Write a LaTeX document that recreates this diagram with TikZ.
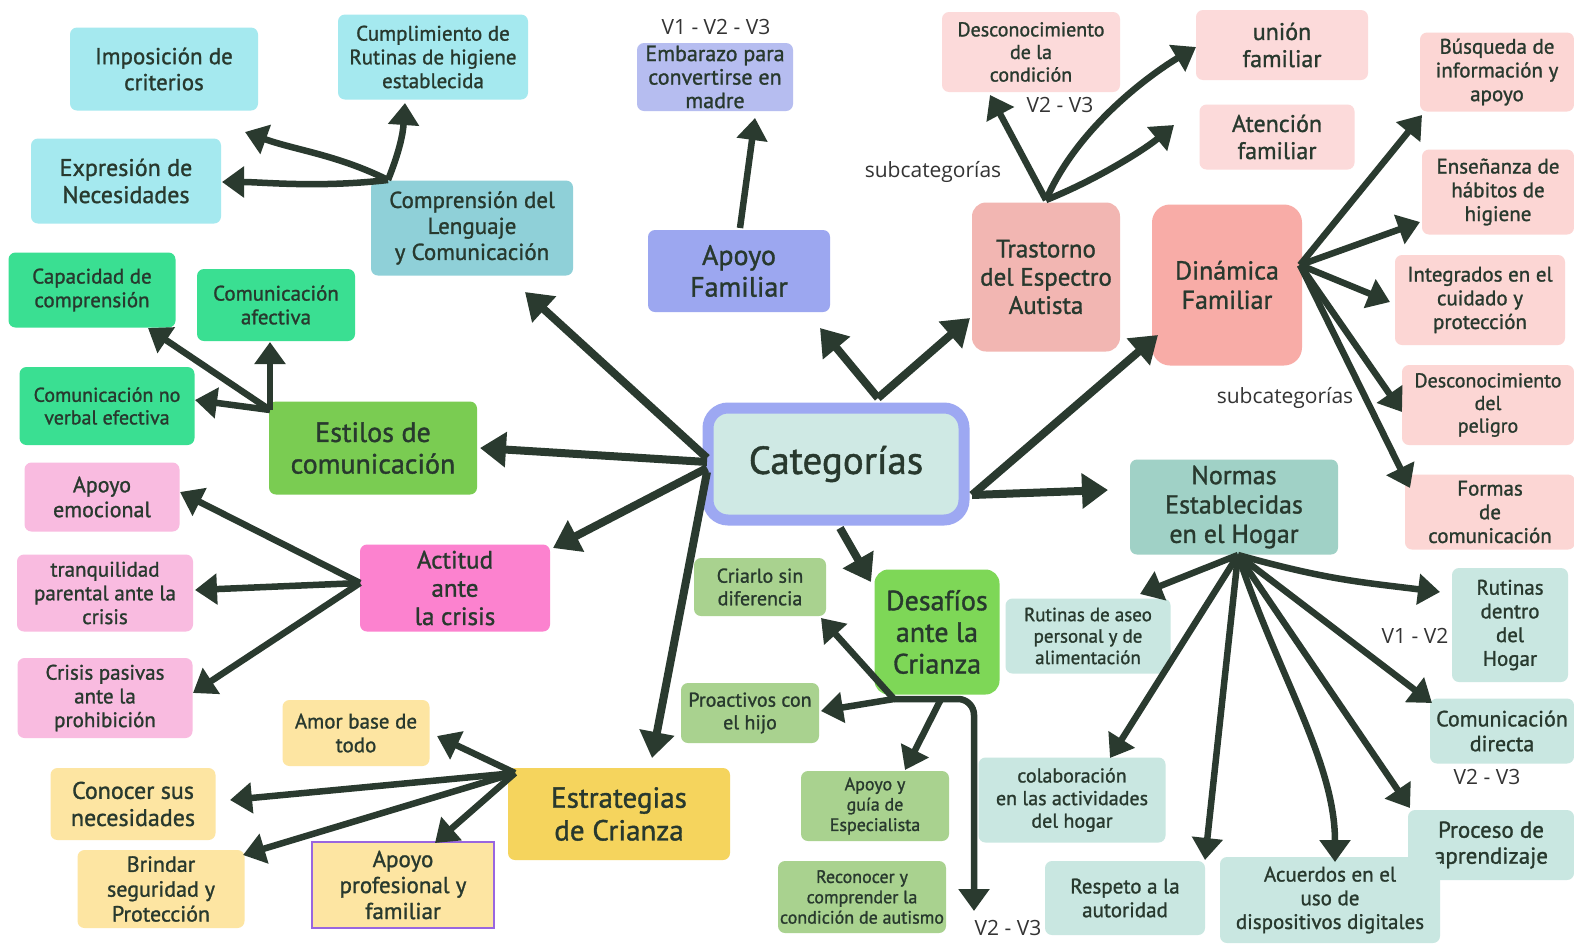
\documentclass[tikz,border=0pt]{standalone}
\usepackage{fontspec}
\newfontfamily\nodefont{PT Sans}[RawFeature={embolden=1.2}]
\newfontfamily\labfont{Open Sans}
\usetikzlibrary{arrows.meta,calc}
\newcommand\fz[1]{\fontsize{#1}{\dimexpr #1pt*113/100\relax}\selectfont}
\definecolor{ink}{HTML}{28392E}
\definecolor{arrc}{HTML}{2A3A2F}
\definecolor{labc}{HTML}{333333}
\definecolor{cyanl}{HTML}{A5E9EF}
\definecolor{cyand}{HTML}{8FD0D8}
\definecolor{mint}{HTML}{3ADF92}
\definecolor{greenm}{HTML}{7ACC52}
\definecolor{pinkl}{HTML}{F9BBE0}
\definecolor{pinkd}{HTML}{FC82CF}
\definecolor{yell}{HTML}{FDE5A2}
\definecolor{yeld}{HTML}{F5D45D}
\definecolor{purp}{HTML}{9966E0}
\definecolor{blue1}{HTML}{9CA7F0}
\definecolor{blue2}{HTML}{B6BDF0}
\definecolor{salm}{HTML}{F2B6B2}
\definecolor{pinkp}{HTML}{FCDADA}
\definecolor{salm2}{HTML}{F8ACA7}
\definecolor{pinkq}{HTML}{FCD6D4}
\definecolor{tealc}{HTML}{A0D1C6}
\definecolor{tealp}{HTML}{C9E7E1}
\definecolor{sage}{HTML}{A9D28F}
\definecolor{greend}{HTML}{7ED757}
\definecolor{catf}{HTML}{CFE9E4}
\definecolor{catb}{HTML}{9DA8F2}
\begin{document}
\begin{tikzpicture}[x=1pt,y=-1pt,
 box/.style={rounded corners=7pt, align=center, text=ink, inner sep=2pt},
 sz/.style 2 args={minimum width=#1pt, minimum height=#2pt},
 fsz/.style={font=\nodefont\fz{#1}},
 arr/.style={draw=arrc, line width=6.5pt, -{Triangle[length=22pt,width=30pt]}},
 marr/.style={draw=arrc, line width=8pt, -{Triangle[length=26pt,width=34pt]}},
 lab/.style={font=\labfont\fontsize{21}{25}\selectfont, text=labc, inner sep=1pt}]
\fill[white] (0,0) rectangle (1574,943);
\useasboundingbox (0,0) rectangle (1574,943);

% central
\node[fill=catf, draw=catb, line width=11pt, rounded corners=20pt, sz={256}{112}, text=ink, font=\nodefont\fz{39}] (cat) at (836,464) {Categorías};

% left top
\node[box,fill=cyanl,sz={188}{83},fsz=23] (impo) at (164,69) {Imposición de\\criterios};
\node[box,fill=cyanl,sz={190}{85},fsz=21] (cump) at (433,57) {Cumplimiento de\\Rutinas de higiene\\establecida};
\node[box,fill=cyanl,sz={190}{85},fsz=24] (expr) at (126,181) {Expresión de\\Necesidades};
\node[box,fill=cyand,sz={202}{95},fsz=23] (comp) at (472,228) {Comprensión del\\Lenguaje\\y Comunicación};
\node[box,fill=mint,sz={167}{75},fsz=21] (capa) at (92,290) {Capacidad de\\comprensión};
\node[box,fill=mint,sz={158}{72},fsz=21] (cafe) at (276,305) {Comunicación\\afectiva};
\node[box,fill=mint,sz={175}{78},fsz=20] (cnov) at (107,406) {Comunicación no\\verbal efectiva};
\node[box,fill=greenm,sz={208}{93},fsz=28] (esti) at (373,448) {Estilos de\\comunicación};
\node[box,fill=pinkl,sz={155}{69},fsz=22] (apem) at (102,497) {Apoyo\\emocional};
\node[box,fill=pinkl,sz={176}{77},fsz=21] (tran) at (105,593) {tranquilidad\\parental ante la\\crisis};
\node[box,fill=pinkl,sz={175}{80},fsz=21] (cris) at (105,698) {Crisis pasivas\\ante la\\prohibición};
\node[box,fill=pinkd,sz={190}{87},fsz=25] (acti) at (455,588) {Actitud\\ante\\la crisis};
\node[box,fill=yell,sz={147}{66},fsz=21] (amor) at (356,733) {Amor base de\\todo};
\node[box,fill=yell,sz={165}{72},fsz=24] (cono) at (133,804) {Conocer sus\\necesidades};
\node[box,fill=yell,sz={167}{78},fsz=22] (brin) at (161,889) {Brindar\\seguridad y\\Protección};
\node[box,fill=yell,draw=purp,line width=2pt,rounded corners=0pt,sz={182}{86},fsz=23] (apro) at (403,885) {Apoyo\\profesional y\\familiar};
\node[box,fill=yeld,sz={222}{92},fsz=29] (estr) at (619,814) {Estrategias\\de Crianza};

% top middle
\node[box,fill=blue1,sz={182}{82},fsz=28] (apfa) at (739,271) {Apoyo\\Familiar};
\node[box,fill=blue2,sz={156}{68},font=\nodefont\fontsize{22}{23.5}\selectfont,inner sep=0pt] (emba) at (715,77) {Embarazo para\\convertirse en\\madre};
\node[box,fill=salm,sz={148}{149},fsz=25,rounded corners=14pt] (tea) at (1046,277) {Trastorno\\del Espectro\\Autista};
\node[box,fill=pinkp,sz={178}{80},fsz=20] (dcon) at (1031,52) {Desconocimiento\\de la\\condición};
\node[box,fill=pinkp,sz={172}{70},fsz=24] (unio) at (1282,45) {unión\\familiar};
\node[box,fill=pinkp,sz={155}{65},fsz=24] (aten) at (1277,137) {Atención\\familiar};

% right
\node[box,fill=salm2,sz={150}{161},fsz=26,rounded corners=18pt] (dina) at (1227,285) {Dinámica\\Familiar};
\node[box,fill=pinkq,sz={154}{79},fsz=21] (busq) at (1497,72) {Búsqueda de\\información y\\apoyo};
\node[box,fill=pinkq,sz={152}{85},fsz=21] (ense) at (1498,192) {Enseñanza de\\hábitos de\\higiene};
\node[box,fill=pinkq,sz={170}{90},fsz=21] (inte) at (1480,300) {Integrados en el\\cuidado y\\protección};
\node[box,fill=pinkq,sz={172}{80},fsz=20] (dpel) at (1488,405) {Desconocimiento\\del\\peligro};
\node[box,fill=pinkq,sz={170}{75},fsz=21] (form) at (1490,512) {Formas\\de\\comunicación};
\node[box,fill=tealc,sz={208}{95},fsz=26] (norm) at (1234,507) {Normas\\Establecidas\\en el Hogar};
\node[box,fill=tealp,sz={116}{114},fsz=21] (rdh) at (1510,625) {Rutinas\\dentro\\del\\Hogar};
\node[box,fill=tealp,sz={144}{65},fsz=22] (cdir) at (1502,731) {Comunicación\\directa};
\node[box,fill=tealp,sz={166}{70},fsz=23] (proc) at (1491,845) {Proceso de\\aprendizaje};
\node[box,fill=tealp,sz={165}{75},fsz=19] (rase) at (1088,636) {Rutinas de aseo\\personal y de\\alimentación};
\node[box,fill=tealp,sz={187}{85},fsz=20] (cola) at (1072,800) {colaboración\\en las actividades\\del hogar};
\node[box,fill=tealp,sz={160}{74},fsz=21] (resp) at (1125,898) {Respeto a la\\autoridad};
\node[box,fill=tealp,sz={220}{86},fsz=21] (acue) at (1330,900) {Acuerdos en el\\uso de\\dispositivos digitales};

% bottom middle
\node[box,fill=sage,sz={132}{58},fsz=20] (cria) at (760,587) {Criarlo sin\\diferencia};
\node[box,fill=greend,sz={125}{125},fsz=28,rounded corners=14pt] (desa) at (937,632) {Desafíos\\ante la\\Crianza};
\node[box,fill=sage,sz={138}{60},fsz=20] (proa) at (750,713) {Proactivos con\\el hijo};
\node[box,fill=sage,sz={148}{70},fsz=18] (apgu) at (875,806) {Apoyo y\\guía de\\Especialista};
\node[box,fill=sage,sz={165}{72},fsz=18] (reco) at (862,897) {Reconocer y\\comprender la\\condición de autismo};

% labels
\node[lab] (v123) at (716,27) {V1 - V2 - V3};
\node[lab] (vtea) at (1060,105) {V2 - V3};
\node[lab] (sub1) at (933,172) {subcategorías};
\node[lab] (sub2) at (1285,398) {subcategorías};
\node[lab] (v12) at (1415,636) {V1 - V2};
\node[lab] (v23a) at (1487,777) {V2 - V3};
\node[lab] (v23b) at (1008,928) {V2 - V3};

% main arrows
\draw[marr] ($(cat)+(-129,-6)$) -- ($(comp)+(53,64)$);
\draw[marr] ($(cat)+(-129,-2)$) -- ($(esti)+(107,0)$);
\draw[marr] ($(cat)+(-129,4)$) -- ($(acti)+(98,-40)$);
\draw[marr] ($(cat)+(-129,8)$) -- ($(estr)+(33,-56)$);
\draw[marr] ($(cat)+(42,-66)$) -- ($(apfa)+(81,57)$);
\draw[marr] ($(cat)+(42,-66)$) -- ($(tea)+(-76,41)$);
\draw[marr] ($(cat)+(136,31)$) -- ($(dina)+(-69,50)$);
\draw[marr] ($(cat)+(136,31)$) -- ($(norm)+(-126,-17)$);
\draw[marr] ($(cat)+(4,64)$) -- ($(desa)+(-66,-50)$);

% comprension
\draw[arr] ($(comp)+(-84,-48)$) .. controls +(12,-30) and +(-2,30) .. ($(cump)+(-28,46)$);
\draw[arr] ($(comp)+(-84,-48)$) .. controls +(-50,-25) and +(50,18) .. ($(impo)+(81,63)$);
\draw[arr] ($(comp)+(-84,-48)$) .. controls +(-70,8) and +(40,0) .. ($(expr)+(96,1)$);
% estilos
\draw[arr] ($(esti)+(-103,-38)$) -- ($(capa)+(56,38)$);
\draw[arr] ($(esti)+(-103,-38)$) -- ($(cafe)+(-6,37)$);
\draw[arr] ($(esti)+(-103,-38)$) -- ($(cnov)+(88,-6)$);
% actitud
\draw[arr] ($(acti)+(-95,-5)$) -- ($(apem)+(78,-5)$);
\draw[arr] ($(acti)+(-95,-5)$) -- ($(tran)+(90,-3)$);
\draw[arr] ($(acti)+(-95,-5)$) -- ($(cris)+(88,-5)$);
% estrategias
\draw[arr] ($(estr)+(-104,-41)$) -- ($(amor)+(81,3)$);
\draw[arr] ($(estr)+(-104,-41)$) -- ($(cono)+(97,-4)$);
\draw[arr] ($(estr)+(-104,-41)$) -- ($(brin)+(82,-34)$);
\draw[arr] ($(estr)+(-104,-41)$) -- ($(apro)+(32,-42)$);
% apoyo familiar
\draw[arr] ($(apfa)+(1,-43)$) -- ($(emba)+(40,41)$);
% trastorno
\draw[arr] ($(tea)+(0,-77)$) -- ($(dcon)+(-41,43)$);
\draw[arr] ($(tea)+(0,-77)$) .. controls +(30,-70) and +(-50,30) .. ($(unio)+(-86,2)$);
\draw[arr] ($(tea)+(0,-77)$) .. controls +(50,-20) and +(-30,25) .. ($(aten)+(-103,-12)$);
% dinamica
\draw[arr] ($(dina)+(73,-20)$) -- ($(busq)+(-75,43)$);
\draw[arr] ($(dina)+(73,-20)$) -- ($(ense)+(-78,30)$);
\draw[arr] ($(dina)+(73,-20)$) -- ($(inte)+(-90,2)$);
\draw[arr] ($(dina)+(73,-20)$) -- ($(dpel)+(-86,7)$);
\draw[arr] ($(dina)+(73,-20)$) -- ($(form)+(-80,-24)$);
% normas
\draw[arr] ($(norm)+(4,48)$) -- ($(rase)+(52,-42)$);
\draw[arr] ($(norm)+(4,48)$) -- ($(cola)+(38,-42)$);
\draw[arr] ($(norm)+(4,48)$) -- ($(resp)+(80,-38)$);
\draw[arr] ($(norm)+(4,48)$) .. controls +(40,120) and +(0,-100) .. ($(acue)+(5,-38)$);
\draw[arr] ($(norm)+(4,48)$) -- ($(proc)+(-81,-37)$);
\draw[arr] ($(norm)+(4,48)$) -- ($(cdir)+(-70,-28)$);
\draw[arr] ($(norm)+(4,48)$) .. controls +(90,25) and +(-80,-10) .. ($(rdh)+(-70,-33)$);
% desafios
\draw[arr] ($(desa)+(-43,67)$) -- ($(cria)+(61,31)$);
\draw[arr] ($(desa)+(-43,67)$) -- ($(proa)+(71,-2)$);
\draw[arr] ($(desa)+(4,67)$) -- ($(apgu)+(30,-36)$);
\draw[arr, rounded corners=16pt] ($(desa)+(-43,67)$) -| ($(reco)+(112,14)$);
\end{tikzpicture}
\end{document}
